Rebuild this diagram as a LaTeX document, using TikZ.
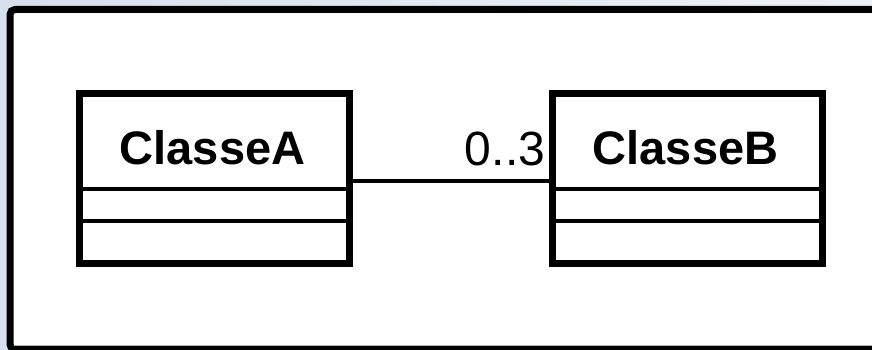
\documentclass[tikz,border=0pt]{standalone}
\usepackage{fontspec}
\setmainfont{Liberation Sans}
\definecolor{bgleft}{HTML}{D8DFED}
\definecolor{bgright}{HTML}{EDF1F7}
\definecolor{shadowgray}{HTML}{B4B4B4}
\tikzset{
  classbox/.style={draw=black, line width=7pt, fill=white, rectangle,
    minimum width=270pt, minimum height=170pt, inner sep=0pt},
  classname/.style={font=\bfseries\fontsize{47}{50}\selectfont, inner sep=0pt, anchor=center},
  divider/.style={line width=4pt, draw=black},
  assoc/.style={line width=3.5pt, draw=black},
  multlabel/.style={font=\fontsize{48}{50}\selectfont, inner sep=0pt, anchor=center}
}
\begin{document}
\begin{tikzpicture}[x=1pt,y=-1pt]
\useasboundingbox (0,0) rectangle (872,350);
\begin{scope}
\clip (0,0) rectangle (872,350);
\shade[left color=bgleft, right color=bgright] (0,0) rectangle (872,350);
\draw[line width=7pt, fill=white, rounded corners=5pt] (10,9.5) rectangle (890,349.5);
\draw[shadowgray, line width=1pt] (13.5,345.5) -- (872,345.5);
\end{scope}
% class boxes
\node[classbox] (classA) at (214.5,178.5) {};
\node[classbox] (classB) at (687.5,178.5) {};
% names
\node[classname] (nameA) at (212.5,147.5) {ClasseA};
\node[classname] (nameB) at (685.5,147.5) {ClasseB};
% compartments
\draw[divider] (classA.west |- 0,189) -- (classA.east |- 0,189);
\draw[divider] (classA.west |- 0,221) -- (classA.east |- 0,221);
\draw[divider] (classB.west |- 0,189) -- (classB.east |- 0,189);
\draw[divider] (classB.west |- 0,221) -- (classB.east |- 0,221);
% association
\draw[assoc] ([yshift=-2.5pt]classA.east) -- ([yshift=-2.5pt]classB.west);
\node[multlabel] (mult) at (505,149) {0..3};
\end{tikzpicture}
\end{document}
